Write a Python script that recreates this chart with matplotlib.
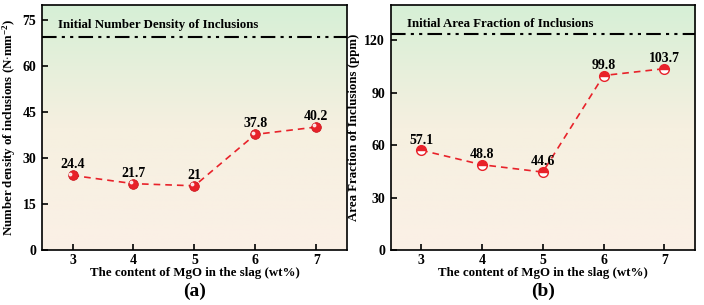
import matplotlib.pyplot as plt
import numpy as np
from matplotlib.colors import LinearSegmentedColormap

plt.rcParams['font.family'] = ['Liberation Serif', 'DejaVu Serif']
plt.rcParams['font.weight'] = 'bold'
plt.rcParams['mathtext.fontset'] = 'custom'
plt.rcParams['mathtext.rm'] = 'Liberation Serif:bold'
plt.rcParams['mathtext.default'] = 'rm'

mgo = [3, 4, 5, 6, 7]
number_density = [24.4, 21.7, 21, 37.8, 40.2]
area_fraction = [57.1, 48.8, 44.6, 99.8, 103.7]
labels_a = ['24.4', '21.7', '21', '37.8', '40.2']
labels_b = ['57.1', '48.8', '44.6', '99.8', '103.7']
initial_density = 69.6
initial_area = 123.8

bg = LinearSegmentedColormap.from_list('bg', ['#fbf0e6', '#f6f0e0', '#d6efd6'])
grad = np.linspace(0, 1, 256).reshape(-1, 1)
red = '#e8222a'
dash_dot_dot = (0, (7, 2.5, 1.5, 2.5, 1.5, 2.5))

fig = plt.figure(figsize=(7.04, 3.05), dpi=100)
ax1 = fig.add_axes([0.0597, 0.180, 0.433, 0.803])
ax2 = fig.add_axes([0.555, 0.180, 0.432, 0.803])


def setup(ax, ylim, yticks, ylabel, title, initial, title_y, tag):
    ax.imshow(grad, cmap=bg, origin='lower', aspect='auto',
              extent=[0, 1, 0, 1], transform=ax.transAxes, zorder=0)
    ax.set_xlim(2.5, 7.5)
    ax.set_ylim(*ylim)
    ax.set_xticks(mgo)
    ax.set_yticks(yticks)
    ax.tick_params(direction='in', length=4, width=1.2, labelsize=10, pad=4)
    ax.tick_params(axis='x', pad=3)
    for s in ax.spines.values():
        s.set_linewidth(1.2)
    ax.axhline(initial, color='black', lw=1.5, ls=dash_dot_dot, zorder=2)
    ax.text(2.77, title_y, title, fontsize=9.3, fontweight='bold',
            va='center')
    ax.set_xlabel('The content of MgO in the slag (wt%)', fontsize=9.3,
                  fontweight='bold', labelpad=0)
    ax.set_ylabel(ylabel, fontsize=9.3, fontweight='bold', labelpad=3)
    ax.text(0.5, -0.135, tag, transform=ax.transAxes, fontsize=14,
            fontweight='bold', ha='center', va='top')


setup(ax1, (0, 80), [0, 15, 30, 45, 60, 75],
      'Number density of inclusions (N$\\cdot$mm$^{-2}$)',
      'Initial Number Density of Inclusions', initial_density, 73.5, '(a)')
setup(ax2, (0, 140), [0, 30, 60, 90, 120],
      'Area Fraction of Inclusions (ppm)',
      'Initial Area Fraction of Inclusions', initial_area, 129, '(b)')

# (a) red spheres
ax1.plot(mgo, number_density, color=red, ls=(0, (4, 3)), lw=1.2, zorder=3)
ax1.plot(mgo, number_density, 'o', color=red, ms=7, mec='#c81018',
         mew=0.5, zorder=4)
ax1.plot(np.array(mgo) - 0.04, np.array(number_density) + 0.6, 'o',
         color='white', ms=1.8, alpha=0.8, zorder=5)
for x, y, t in zip(mgo, number_density, labels_a):
    ax1.text(x, y + 3.4, t, ha='center', va='center', fontsize=10,
             fontweight='bold')

# (b) half-filled circles
ax2.plot(mgo, area_fraction, color=red, ls=(0, (4, 3)), lw=1.2, zorder=3)
ax2.plot(mgo, area_fraction, 'o', color=red, fillstyle='top',
         markerfacecoloralt='white', mec=red, ms=7, mew=1, zorder=4)
for x, y, t in zip(mgo, area_fraction, labels_b):
    ax2.text(x, y + 5.8, t, ha='center', va='center', fontsize=10,
             fontweight='bold')

fig.savefig('out.png', dpi=100)
